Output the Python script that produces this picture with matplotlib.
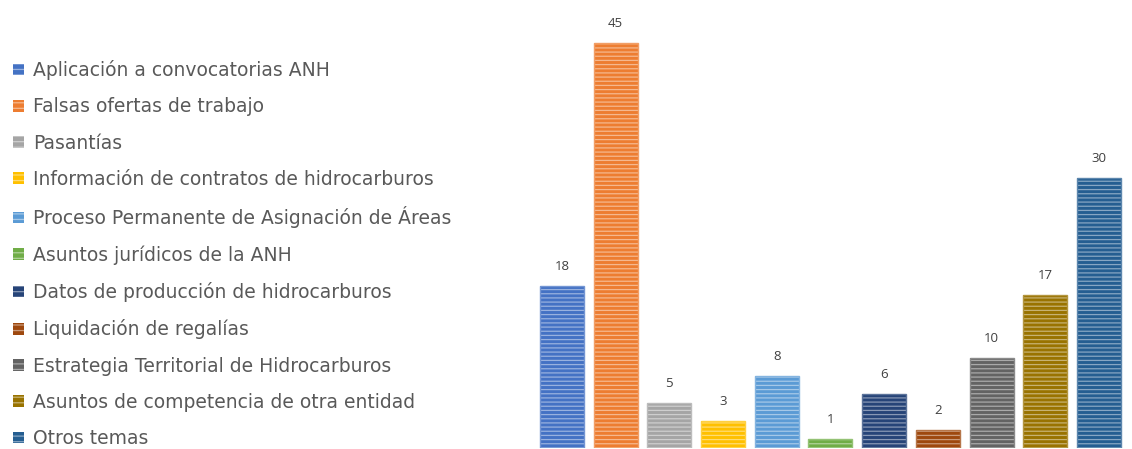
import matplotlib
matplotlib.use("Agg")
import matplotlib.pyplot as plt
import matplotlib.colors as mcolors
from matplotlib.patches import Patch
import numpy as np

categories = [
    "Aplicación a convocatorias ANH",
    "Falsas ofertas de trabajo",
    "Pasantías",
    "Información de contratos de hidrocarburos",
    "Proceso Permanente de Asignación de Áreas",
    "Asuntos jurídicos de la ANH",
    "Datos de producción de hidrocarburos",
    "Liquidación de regalías",
    "Estrategia Territorial de Hidrocarburos",
    "Asuntos de competencia de otra entidad",
    "Otros temas",
]
values = [18, 45, 5, 3, 8, 1, 6, 2, 10, 17, 30]
colors = ["#4472C4", "#ED7D31", "#A5A5A5", "#FFC000", "#5B9BD5", "#70AD47",
          "#264478", "#9E480E", "#636363", "#997300", "#255E91"]

plt.rcParams['font.family'] = ['Open Sans', 'DejaVu Sans']
plt.rcParams['hatch.linewidth'] = 0.9

def lighten(c, f=0.45):
    r, g, b = mcolors.to_rgb(c)
    return (r + (1 - r) * f, g + (1 - g) * f, b + (1 - b) * f)

fig = plt.figure(figsize=(11.32, 4.49), dpi=100)
ax = fig.add_axes([0.4726, 0.0022, 0.522, 0.982])
x = np.arange(len(values))
w = 0.82
for i, (v, c) in enumerate(zip(values, colors)):
    ax.bar(x[i], v, width=w, facecolor=c, edgecolor=lighten(c), hatch='----', linewidth=0)
    ax.bar(x[i], v, width=w, fill=False, edgecolor=lighten(c, 0.25), linewidth=1.0)
    ax.text(x[i], v + 1.4, str(v), ha='center', va='bottom', fontsize=9.5, color='#404040')
ax.set_xlim(-0.5, len(values) - 0.5)
ax.set_ylim(0, 49)
ax.axis('off')

handles = [Patch(facecolor=c, edgecolor=lighten(c), hatch='---', linewidth=0) for c in colors]
fig.legend(handles, categories, loc='upper left', bbox_to_anchor=(0.0115, 0.866),
           frameon=False, prop={'family': ['DejaVu Sans'], 'size': 13.5}, labelcolor='#595959',
           handlelength=0.58, handleheight=0.58, handletextpad=0.48,
           labelspacing=0.92, borderaxespad=0, borderpad=0)

fig.savefig("out.png", dpi=100)
